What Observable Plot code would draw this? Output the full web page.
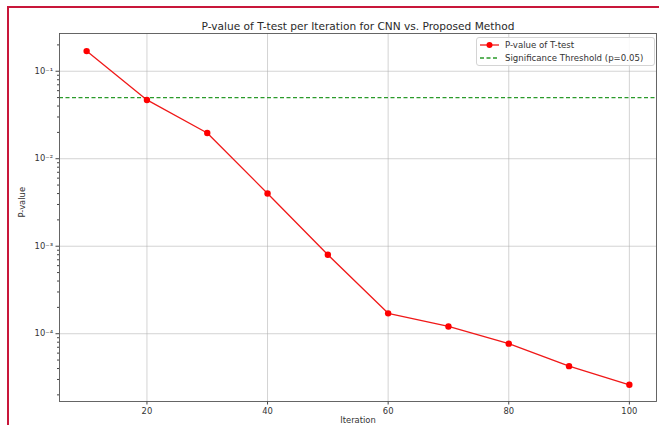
<!DOCTYPE html>
<html>
<head>
<meta charset="utf-8">
<script src="https://cdn.jsdelivr.net/npm/d3@7"></script>
<script src="https://cdn.jsdelivr.net/npm/@observablehq/plot@0.6"></script>
<style>
  html, body { margin: 0; padding: 0; background: #fff; }
  #wrap { position: relative; width: 659px; height: 425px; overflow: hidden; font-family: "DejaVu Sans", sans-serif; }
  #frame { position: absolute; left: 7px; top: 6px; width: 660px; height: 430px; border-left: 2px solid #c8173a; border-top: 2px solid #c8173a; pointer-events: none; }
  #legend { position: absolute; left: 476px; top: 37px; width: 177px; height: 27px; border: 1px solid #d4d4d4; border-radius: 3px; background: rgba(255,255,255,0.85); font-size: 8.6px; color: #333; }
  .row { position: absolute; left: 0; height: 12px; display: flex; align-items: center; }
  .row svg { margin-left: 3px; margin-right: 6px; }
</style>
</head>
<body>
<div id="wrap">
  <div id="chart"></div>
  <div id="legend">
    <div class="row" style="top:1px"><svg width="19" height="10"><line x1="0" x2="19" y1="5" y2="5" stroke="#f01818" stroke-width="1.3"/><circle cx="9.5" cy="5" r="3" fill="#f00"/></svg><span id="leg1"></span></div>
    <div class="row" style="top:14px"><svg width="19" height="10"><line x1="0" x2="19" y1="5" y2="5" stroke="#2a9a2a" stroke-width="1.3" stroke-dasharray="4,2.5"/></svg><span id="leg2"></span></div>
  </div>
  <div id="frame"></div>
</div>
<script>
const iterations = [10, 20, 30, 40, 50, 60, 70, 80, 90, 100];
const pValues = [0.17, 0.047, 0.0197, 0.0040, 0.00080, 0.000171, 0.000121, 0.000077, 0.0000426, 0.0000261];
const threshold = 0.05;
const xTicks = [20, 40, 60, 80, 100];
const yTicks = [1e-1, 1e-2, 1e-3, 1e-4];
const yMinor = [];
for (const e of [-5, -4, -3, -2, -1]) for (let m = 2; m <= 9; m++) yMinor.push(m * Math.pow(10, e));
const titleText = "P-value of T-test per Iteration for CNN vs. Proposed Method";
const xLabel = "Iteration";
const yLabel = "P-value";
const legendLabels = ["P-value of T-test", "Significance Threshold (p=0.05)"];

document.getElementById("leg1").textContent = legendLabels[0];
document.getElementById("leg2").textContent = legendLabels[1];

const data = iterations.map((it, i) => ({iteration: it, p: pValues[i]}));
const supMap = {"-": "\u207B", "0": "\u2070", "1": "\u00B9", "2": "\u00B2", "3": "\u00B3", "4": "\u2074", "5": "\u2075"};
const fmt = d => "10" + String(Math.round(Math.log10(d))).split("").map(c => supMap[c]).join("");

const chart = Plot.plot({
  width: 659,
  height: 425,
  marginLeft: 59,
  marginRight: 3,
  marginTop: 33,
  marginBottom: 24,
  style: {fontFamily: "DejaVu Sans, sans-serif", fontSize: "8.4px", color: "#333", background: "transparent"},
  x: {domain: [5.5, 104.5]},
  y: {type: "log", domain: [1.68e-5, 0.27]},
  marks: [
    Plot.gridX(xTicks, {stroke: "#b0b0b0", strokeOpacity: 0.7, strokeWidth: 0.8}),
    Plot.gridY(yTicks, {stroke: "#b0b0b0", strokeOpacity: 0.7, strokeWidth: 0.8}),
    Plot.axisX(xTicks, {tickSize: 3.5, tickPadding: 3, label: null, tickFormat: d => String(d), stroke: "#444"}),
    Plot.axisY(yTicks, {tickSize: 3.5, tickPadding: 3, label: null, tickFormat: fmt, stroke: "#444"}),
    Plot.axisY(yMinor.filter(v => v >= 1.68e-5 && v <= 0.27), {tickSize: 2, label: null, tickFormat: () => "", stroke: "#444"}),
    Plot.ruleY([threshold], {stroke: "#2a9a2a", strokeWidth: 1.3, strokeDasharray: "4,2.5"}),
    Plot.line(data, {x: "iteration", y: "p", stroke: "#f01818", strokeWidth: 1.3}),
    Plot.dot(data, {x: "iteration", y: "p", fill: "#f00", r: 3.2}),
    Plot.frame({stroke: "#555", strokeWidth: 0.9}),
    Plot.text([titleText], {frameAnchor: "top", lineAnchor: "middle", dy: -7, fontSize: 10.6, fill: "#2a2a2a"}),
    Plot.text([xLabel], {frameAnchor: "bottom", lineAnchor: "middle", dy: 19, fontSize: 8.4, fill: "#333"}),
    Plot.text([yLabel], {frameAnchor: "left", lineAnchor: "middle", dx: -37, rotate: -90, fontSize: 8.4, fill: "#333"})
  ]
});
document.getElementById("chart").appendChild(chart);
</script>
</body>
</html>
